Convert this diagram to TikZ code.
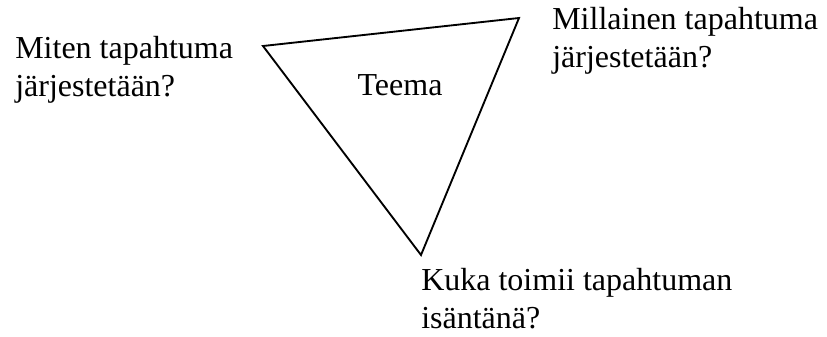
\documentclass[tikz,border=0pt]{standalone}
\usepackage{fontspec}
\setmainfont{Liberation Serif}
\usetikzlibrary{positioning}

\tikzset{
  question/.style={anchor=base west,align=left,inner sep=0pt,font=\fontsize{24}{28}\selectfont},
  corner/.style={inner sep=0pt}
}

\begin{document}
\begin{tikzpicture}[x=0.75pt,y=-0.75pt]
\useasboundingbox (0,0) rectangle (827,336);
% triangle corners
\coordinate (tl) at (263,46);
\coordinate (tr) at (519,18);
\coordinate (bt) at (421,255);
\draw[line width=1.4pt,line join=miter] (tl)--(tr)--(bt)--cycle;
% theme in the middle
\node[question,anchor=base] (teema) at (400,95) {Teema};
% questions at the corners (base = last line)
\node[question] (miten) at (15,96) {Miten tapahtuma\\järjestetään?};
\node[question] (millainen) at (552,67) {Millainen tapahtuma\\järjestetään?};
\node[question] (kuka) at (421,328) {Kuka toimii tapahtuman\\isäntänä?};
\end{tikzpicture}
\end{document}
